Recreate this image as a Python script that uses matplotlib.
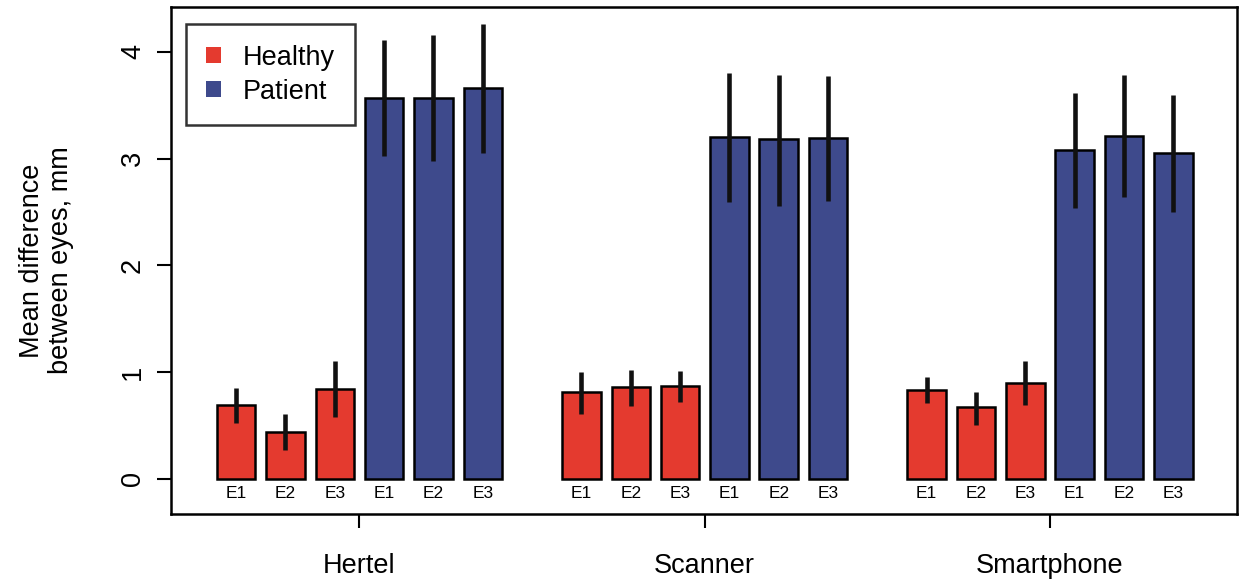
import numpy as np
from matplotlib import pyplot as plt
from matplotlib.patches import Patch

plt.rcParams['font.family'] = ['Liberation Sans', 'DejaVu Sans']

devices = ['Hertel', 'Scanner', 'Smartphone']
examiners = ['E1', 'E2', 'E3']

# means per device, E1..E3
healthy = [[0.69, 0.44, 0.845], [0.81, 0.86, 0.87], [0.83, 0.67, 0.90]]
patient = [[3.57, 3.57, 3.66], [3.20, 3.18, 3.19], [3.08, 3.21, 3.05]]
# error bar low / high ends
healthy_lo = [[0.52, 0.27, 0.58], [0.61, 0.68, 0.72], [0.71, 0.50, 0.69]]
healthy_hi = [[0.85, 0.61, 1.10], [1.00, 1.02, 1.01], [0.95, 0.81, 1.10]]
patient_lo = [[3.02, 2.98, 3.05], [2.59, 2.56, 2.60], [2.54, 2.64, 2.50]]
patient_hi = [[4.11, 4.16, 4.26], [3.80, 3.78, 3.77], [3.61, 3.78, 3.60]]

red = '#E43A2F'
blue = '#3E4A8C'

fig = plt.figure(figsize=(12.39, 5.84), dpi=100)
ax = fig.add_axes([0.138, 0.12, 0.86, 0.868])

width = 0.78
for g in range(3):
	base = g * 7
	for k in range(3):
		for s, (vals, lo, hi, col) in enumerate([(healthy, healthy_lo, healthy_hi, red),
												(patient, patient_lo, patient_hi, blue)]):
			x = base + s * 3 + k
			ax.bar(x, vals[g][k], width=width, color=col, edgecolor='black', linewidth=1.8, zorder=2)
			ax.plot([x, x], [lo[g][k], hi[g][k]], color='#111111', linewidth=3.3,
					solid_capstyle='butt', zorder=3)
			ax.text(x, -0.07, examiners[k], ha='center', va='top', fontsize=12.5)

ax.set_xlim(-1.32, 20.28)
ax.set_ylim(-0.33, 4.42)
ax.set_yticks([0, 1, 2, 3, 4])
ax.set_yticklabels(['0', '1', '2', '3', '4'], rotation=90, va='center')
ax.set_xticks([2.5, 9.5, 16.5])
ax.set_xticklabels(devices)
ax.tick_params(axis='both', direction='out', length=10, width=1.5, labelsize=19.5)
ax.tick_params(axis='y', pad=8)
ax.tick_params(axis='x', pad=18)
for sp in ax.spines.values():
	sp.set_linewidth(1.8)

ax.set_ylabel('Mean difference\nbetween eyes, mm', fontsize=19.5, labelpad=33, linespacing=1.15)

handles = [Patch(facecolor=red, edgecolor='none'), Patch(facecolor=blue, edgecolor='none')]
leg = ax.legend(handles, ['Healthy', 'Patient'], loc='upper left', bbox_to_anchor=(0.014, 0.966),
				borderaxespad=0, fontsize=19.5, frameon=True, fancybox=False, edgecolor='black',
				handlelength=0.55, handleheight=0.55, handletextpad=0.8, borderpad=0.75,
				labelspacing=0.3)
leg.get_frame().set_linewidth(1.8)

plt.savefig('out.png', dpi=100)
